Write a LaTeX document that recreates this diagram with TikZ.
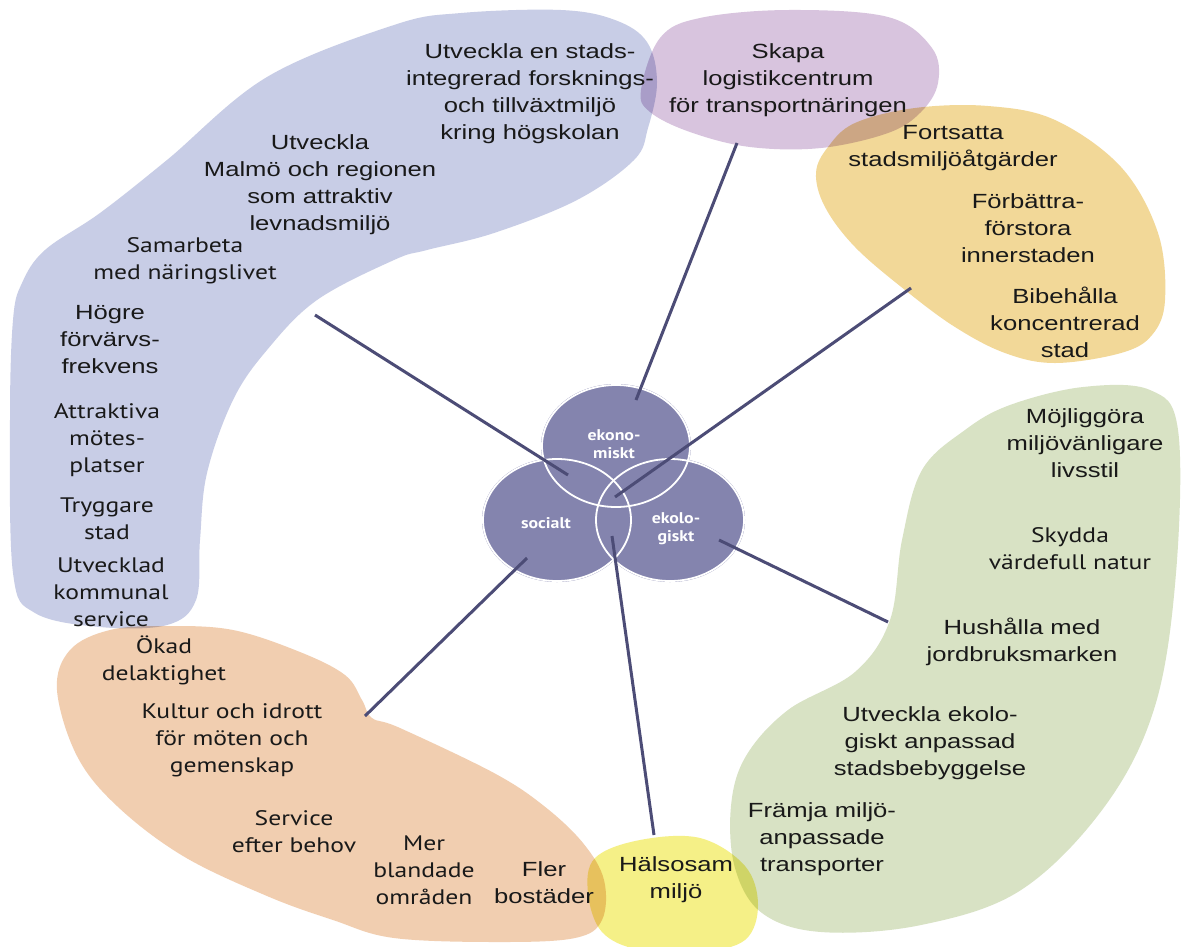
\documentclass[tikz,border=0pt]{standalone}
\usepackage{fontspec}
\setmainfont[FakeStretch=1.25]{Liberation Sans}
\newfontfamily\hum[FakeStretch=1.22]{PT Sans}
\newfontfamily\humb[FakeStretch=1.15]{PT Sans Bold}
\usetikzlibrary{shapes.geometric}
\definecolor{cblue}{RGB}{200,205,230}
\definecolor{cpurple}{RGB}{216,196,222}
\definecolor{cgold}{RGB}{242,216,152}
\definecolor{cgreen}{RGB}{216,226,196}
\definecolor{cpeach}{RGB}{241,206,176}
\definecolor{cyellow}{RGB}{245,240,135}
\definecolor{ccirc}{RGB}{132,132,174}
\definecolor{cline}{RGB}{76,76,118}
\definecolor{ctext}{RGB}{25,25,25}
\tikzset{
  blob/.style={blend mode=multiply},
  txt/.style={align=center, inner sep=0pt, text=ctext, font=\fontsize{20.5}{27}\selectfont},
  htxt/.style={align=center, inner sep=0pt, text=ctext, font=\hum\fontsize{21}{27}\selectfont},
  circ/.style={ellipse, fill=ccirc, minimum width=150pt, minimum height=124pt, inner sep=0pt},
  ring/.style={ellipse, draw=white, line width=1.8pt, minimum width=148pt, minimum height=122pt, inner sep=0pt},
  clab/.style={align=center, inner sep=0pt, text=white, font=\humb\fontsize{15.5}{18}\selectfont},
  conn/.style={draw=cline, line width=3pt}
}
\begin{document}
\begin{tikzpicture}[x=1pt,y=-1pt]
\useasboundingbox (0,0) rectangle (1182,946);
\fill[white] (0,0) rectangle (1182,946);
% blobs
\fill[cblue,blob] plot[smooth cycle, tension=0.6] coordinates {
 (10,420) (13,320) (22,283) (45,250) (100,213) (167,160) (267,77) (394,25) (461,13) (561,10)
 (615,20) (647,42) (657,82) (648,128) (634,160) (577,200) (494,233) (427,250) (394,260)
 (317,300) (267,350) (233,400) (207,473) (200,540) (196,600) (167,625) (100,627) (35,613) (13,573)};
\fill[cgold,blob] plot[smooth cycle, tension=0.6] coordinates {
 (828,147) (855,123) (915,108) (988,106) (1055,120) (1121,167) (1158,233) (1165,300) (1152,335)
 (1121,353) (1055,363) (1005,353) (955,327) (905,290) (855,247) (825,207) (816,173)};
\fill[cpurple,blob] plot[smooth cycle, tension=0.6] coordinates {
 (641,90) (660,38) (700,18) (788,10) (888,17) (932,48) (938,83) (921,112) (888,133) (821,148)
 (750,147) (690,132) (650,112)};
\fill[cgreen,blob] plot[smooth cycle, tension=0.6] coordinates {
 (1010,405) (1083,387) (1150,390) (1178,430) (1176,573) (1155,706) (1105,806) (1021,890)
 (921,925) (821,932) (762,913) (735,868) (731,806) (746,756) (788,710) (855,672) (890,620)
 (902,540) (922,470) (965,430)};
\fill[cpeach,blob] plot[smooth cycle, tension=0.6] coordinates {
 (57,690) (70,650) (110,630) (167,626) (233,630) (300,652) (345,675) (362,700) (372,718)
 (400,728) (494,773) (544,806) (583,843) (604,880) (602,920) (575,938) (500,942) (394,938)
 (333,920) (267,896) (183,856) (117,806) (77,756)};
\fill[cyellow,blob] plot[smooth cycle, tension=0.6] coordinates {
 (595,858) (640,840) (700,838) (745,866) (758,905) (745,940) (700,952) (640,950) (602,932) (588,893)};
% circles
\node[circ] (eko) at (616,446) {};
\node[circ] (soc) at (557,520) {};
\node[circ] (ekl) at (670,520) {};
\node[ring] (ekoR) at (616,446) {};
\node[ring] (socR) at (557,520) {};
\node[ring] (eklR) at (670,520) {};
\node[clab] (lEko) at (614,444) {ekono-\\miskt};
\node[clab] (lSoc) at (546,523) {socialt};
\node[clab] (lEkl) at (676,529) {ekolo-\\giskt};
% texts
\node[txt] (t1) at (530,94) {Utveckla en stads-\\integrerad forsknings-\\och tillväxtmiljö\\kring högskolan};
\node[txt] (t2) at (320,185) {Utveckla\\Malmö och regionen\\som attraktiv\\levnadsmiljö};
\node[htxt] (t3) at (185,261) {Samarbeta\\med näringslivet};
\node[txt] (t4) at (110,340) {Högre\\förvärvs-\\frekvens};
\node[htxt] (t5) at (107,440) {Attraktiva\\mötes-\\platser};
\node[htxt] (t6) at (107,519) {Tryggare\\stad};
\node[htxt] (t7) at (111,592) {Utvecklad\\kommunal\\service};
\node[htxt] (t8) at (164,660) {Ökad\\delaktighet};
\node[htxt] (t9) at (232,740) {Kultur och idrott\\för möten och\\gemenskap};
\node[htxt] (t10) at (294,832) {Service\\efter behov};
\node[htxt] (t11) at (424,870) {Mer\\blandade\\områden};
\node[txt] (t12) at (544,883) {Fler\\bostäder};
\node[txt] (t13) at (676,880) {Hälsosam\\miljö};
\node[txt] (t14) at (822,839) {Främja miljö-\\anpassade\\transporter};
\node[txt] (t15) at (930,743) {Utveckla ekolo-\\giskt anpassad\\stadsbebyggelse};
\node[txt] (t16) at (1022,642) {Hushålla med\\jordbruksmarken};
\node[htxt] (t17) at (1070,549) {Skydda\\värdefull natur};
\node[txt] (t18) at (1085,443) {Möjliggöra\\miljövänligare\\livsstil};
\node[txt] (t19) at (1065,322) {Bibehålla\\koncentrerad\\stad};
\node[txt] (t20) at (1028,228) {Förbättra-\\förstora\\innerstaden};
\node[txt] (t21) at (953,148) {Fortsatta\\stadsmiljöåtgärder};
\node[txt] (t22) at (788,80) {Skapa\\logistikcentrum\\för transportnäringen};
% connector ends
\coordinate (a1) at (737,143); \coordinate (b1) at (636,400);
\coordinate (a2) at (315,315); \coordinate (b2) at (568,475);
\coordinate (a3) at (911,288); \coordinate (b3) at (615,497);
\coordinate (a4) at (888,622); \coordinate (b4) at (719,540);
\coordinate (a5) at (654,835); \coordinate (b5) at (612,536);
\coordinate (a6) at (365,716); \coordinate (b6) at (527,558);
\draw[conn] (a1) -- (b1);
\draw[conn] (a2) -- (b2);
\draw[conn] (a3) -- (b3);
\draw[conn] (a4) -- (b4);
\draw[conn] (a5) -- (b5);
\draw[conn] (a6) -- (b6);
\end{tikzpicture}
\end{document}
